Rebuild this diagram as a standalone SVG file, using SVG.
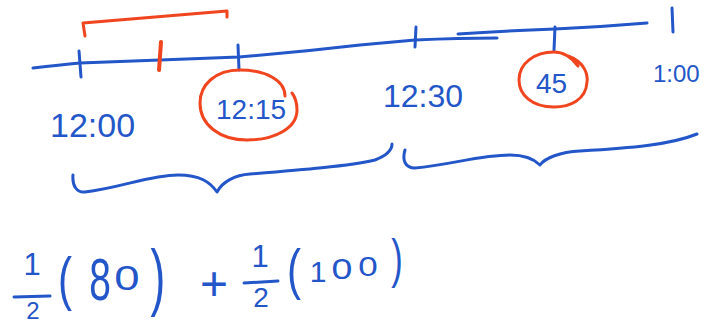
<svg xmlns="http://www.w3.org/2000/svg" width="714" height="325" viewBox="0 0 714 325">
<style>
.b{fill:none;stroke:#2356c8;stroke-width:3;stroke-linecap:round;stroke-linejoin:round}
.r{fill:none;stroke:#f0451e;stroke-width:3;stroke-linecap:round;stroke-linejoin:round}
.t{fill:#2356c8;font-family:"Liberation Sans",Arial,sans-serif}
</style>
<rect width="714" height="325" fill="#ffffff"/>
<g id="timeline">
<path class="b" d="M33,68 Q60,65 80,63 L160,60 L239,57 Q300,52 360,45 L415,40 Q460,38 497,38"/>
<path class="b" d="M458,34 Q500,31 555,29 Q600,27 647,23"/>
<path class="b" d="M79,51 L81,77"/>
<path class="b" d="M238,45 L239,70"/>
<path class="b" d="M416,27 L415,47"/>
<path class="b" d="M555,27 L554,50"/>
<path class="b" d="M672,8 L673,32"/>
<path class="r" style="stroke-width:4" d="M161,42 L159,70"/>
<path class="r" d="M85,36 L83,23 L227,11 L227,17"/>
</g>
<g id="labels">
<text class="t" x="50" y="137" font-size="34">12:00</text>
<text class="t" x="216" y="119" font-size="28">12:15</text>
<text class="t" x="383" y="107" font-size="32">12:30</text>
<text class="t" x="536" y="93" font-size="28">45</text>
<text class="t" x="653" y="82" font-size="24">1:00</text>
<path class="r" d="M285,96 C285,80 265,70 240,70 C215,70 200,85 200,103 C200,125 220,140 247,140 C275,140 297,128 297,110 C297,102 295,97 292,93"/>
<path class="r" d="M568,56 C585,62 588,75 587,82 C586,100 570,107 554,107 C532,107 519,95 519,80 C519,63 535,52 554,52 C565,52 572,58 578,66"/>
</g>
<g id="braces">
<path class="b" d="M73,175 C72,186 77,193 85,192 C120,188 150,175 178,175 C200,175 210,182 217,192 C222,182 235,175 250,174 C300,170 350,166 375,160 C388,155 392,150 392,144"/>
<path class="b" d="M405,150 C402,160 405,168 415,168 C450,165 480,155 510,155 C525,155 535,160 540,165 C545,158 560,152 580,151 C630,148 670,145 697,134"/>
</g>
<g id="formula">
<text class="t" x="32" y="275" font-size="31" text-anchor="middle">1</text>
<path class="b" d="M14,297 L50,296"/>
<text class="t" x="33" y="319" font-size="24" text-anchor="middle">2</text>
<text class="t" transform="translate(65,299) scale(0.7,1)" font-size="60" text-anchor="middle">(</text>
<text class="t" transform="translate(100,300) scale(0.65,1)" font-size="60" text-anchor="middle">8</text>
<text class="t" transform="translate(127,290) scale(1.3,1)" font-size="35" text-anchor="middle">0</text>
<text class="t" transform="translate(158,302) scale(0.6,1)" font-size="74" text-anchor="middle">)</text>
<text class="t" x="214" y="300" font-size="48" text-anchor="middle">+</text>
<text class="t" x="260" y="267" font-size="31" text-anchor="middle">1</text>
<path class="b" d="M244,283 L278,281"/>
<text class="t" x="261" y="307" font-size="28" text-anchor="middle">2</text>
<text class="t" transform="translate(294,288) scale(0.75,1)" font-size="56" text-anchor="middle">(</text>
<text class="t" x="318" y="282" font-size="30" text-anchor="middle">1</text>
<text class="t" transform="translate(342,279) scale(1.25,1)" font-size="30" text-anchor="middle">0</text>
<text class="t" transform="translate(368,276) scale(1.25,1)" font-size="28" text-anchor="middle">0</text>
<text class="t" transform="translate(397,277) scale(0.65,1)" font-size="53" text-anchor="middle">)</text>
</g>
</svg>
